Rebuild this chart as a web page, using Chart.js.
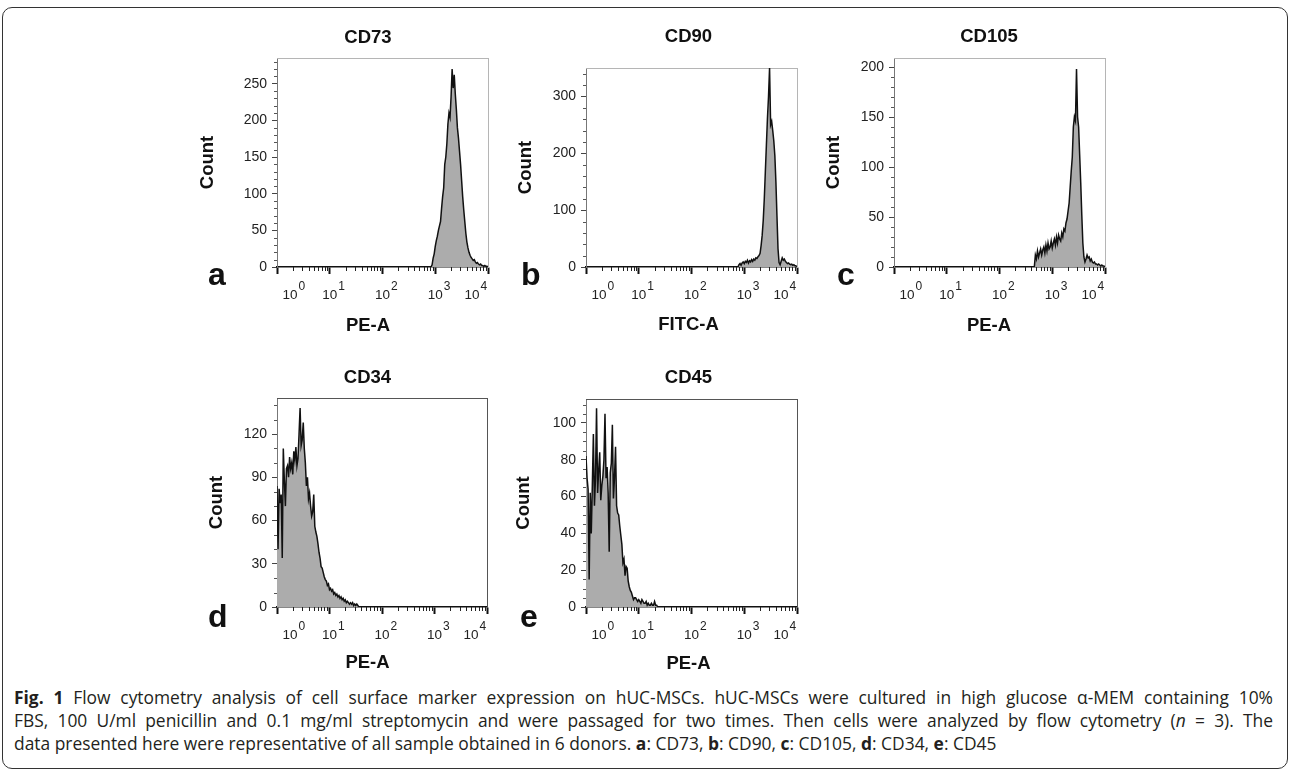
<!DOCTYPE html>
<html lang="en"><head><meta charset="UTF-8"><title>Fig. 1 Flow cytometry</title>
<style>
  html,body{margin:0;background:#fff;}
  #fig{position:relative;width:1290px;height:772px;overflow:hidden;}
  .frame{position:absolute;left:2px;top:7px;width:1286px;height:762px;box-sizing:border-box;
         border:1.5px solid #333;border-radius:10px;}
  canvas{position:absolute;}
  .tag{position:absolute;font:bold 32px/32px "Liberation Sans",Arial,sans-serif;color:#111;}
  .caption{position:absolute;left:14px;top:686px;width:1259px;
           font:17.4px/23px "Open Sans",sans-serif;color:#231f20;}
  .caption .jl{text-align:justify;text-align-last:justify;white-space:nowrap;}
</style>
<script src="https://cdn.jsdelivr.net/npm/chart.js"></script>
</head><body>
<div id="fig">
  <div class="frame"></div>
  <canvas id="cA"></canvas>
  <canvas id="cB"></canvas>
  <canvas id="cC"></canvas>
  <canvas id="cD"></canvas>
  <canvas id="cE"></canvas>
  <div class="tag" style="left:208px;top:258px">a</div>
  <div class="tag" style="left:521px;top:258px">b</div>
  <div class="tag" style="left:837px;top:258px">c</div>
  <div class="tag" style="left:208px;top:600px">d</div>
  <div class="tag" style="left:520px;top:600px">e</div>
  <div class="caption">
    <div class="jl"><b>Fig. 1</b> Flow cytometry analysis of cell surface marker expression on hUC-MSCs. hUC-MSCs were cultured in high glucose α-MEM containing 10%</div>
    <div class="jl">FBS, 100 U/ml penicillin and 0.1 mg/ml streptomycin and were passaged for two times. Then cells were analyzed by flow cytometry (<i>n</i> = 3). The</div>
    <div>data presented here were representative of all sample obtained in 6 donors. <b>a</b>: CD73, <b>b</b>: CD90, <b>c</b>: CD105, <b>d</b>: CD34, <b>e</b>: CD45</div>
  </div>
</div>
<script>
// x axis: decades of fluorescence intensity, histogram channels every 0.02 decade
const decades   = [0, 1, 2, 3, 4];
const xTickBase = '10';
const xTickExp  = ['0', '1', '2', '3', '4'];
const binWidth  = 0.02;

// CD73 (PE-A), first channel at 2.92
const cd73Start  = 2.92;
const cd73Counts = [0,3,12,18,28,36,42,50,56,62,80,96,108,140,150,168,195,210,204,232,
                    270,244,262,236,215,190,176,158,140,118,96,78,62,46,34,26,20,16,13,11,
                    9,10,7,5,6,4,3,4,2,2,1,2,1,1,0];
const cd73Ticks  = [0, 50, 100, 150, 200, 250];

// CD90 (FITC-A), first channel at 2.88
const cd90Start  = 2.88;
const cd90Counts = [0,4,6,3,7,9,6,10,8,12,7,11,9,13,10,14,12,16,15,18,
                    20,24,38,56,82,120,168,215,262,300,350,250,256,240,222,196,150,90,32,8,
                    4,10,16,12,14,10,8,6,7,5,4,5,3,4,2,2,0];
const cd90Ticks  = [0, 100, 200, 300];

// CD105 (PE-A), first channel at 2.66
const cd105Start  = 2.66;
const cd105Counts = [0,12,8,16,10,14,18,12,17,20,14,22,16,24,18,20,26,19,24,28,
                     22,30,24,32,28,26,34,30,38,36,44,48,56,64,80,96,110,140,150,146,
                     198,150,140,112,84,52,24,10,5,8,12,9,10,6,8,5,4,5,3,3,
                     2,3,2,1,2,1,1,0];
const cd105Ticks  = [0, 50, 100, 150, 200];

// CD34 (PE-A), first channel at 0
const cd34Start  = 0;
const cd34Counts = [84,40,82,72,78,34,110,88,70,96,98,90,104,96,100,92,108,102,111,98,
                    103,120,138,112,116,128,110,100,84,90,75,79,70,63,66,78,56,52,49,44,
                    38,34,28,27,24,21,19,18,15,16,12,13,11,12,9,10,8,9,7,8,
                    6,7,5,6,4,5,3,4,3,2,3,2,3,1,2,1,2,1,0,0,0];
const cd34Ticks  = [0, 30, 60, 90, 120];

// CD45 (PE-A), first channel at 0
const cd45Start  = 0;
const cd45Counts = [82,70,64,15,62,40,66,94,55,70,108,62,74,84,58,66,71,80,105,70,
                    76,62,30,73,78,99,59,70,87,55,51,50,44,39,34,24,26,17,22,21,
                    14,11,9,8,6,4,5,5,4,3,4,3,2,4,3,2,2,3,1,2,
                    1,1,2,1,1,3,1,1,0,0,0];
const cd45Ticks  = [0, 20, 40, 60, 80, 100];

const FONT = '"Liberation Sans", Arial, sans-serif';

// log minor ticks on x, minor ticks on y, and the 10^n tick labels
const flowAxes = {
  id: 'flowAxes',
  afterDraw(chart, args, opts) {
    const { ctx, chartArea: a, scales: { x, y } } = chart;
    ctx.save();
    ctx.lineWidth = 1;
    ctx.strokeStyle = '#555';
    for (let v = 0; v <= y.max; v += opts.yMinor) {
      if (v % opts.yMajor === 0) continue;
      const py = Math.round(y.getPixelForValue(v)) + 0.5;
      ctx.beginPath(); ctx.moveTo(a.left - 3, py); ctx.lineTo(a.left, py); ctx.stroke();
    }
    ctx.strokeStyle = '#222';
    for (let d = 0; d < decades.length - 1; d++) {
      for (let k = 2; k <= 9; k++) {
        const px = Math.round(x.getPixelForValue(decades[d] + Math.log10(k))) + 0.5;
        ctx.beginPath(); ctx.moveTo(px, a.bottom); ctx.lineTo(px, a.bottom + 4); ctx.stroke();
      }
    }
    ctx.fillStyle = '#222';
    ctx.textBaseline = 'middle';
    decades.forEach((d, i) => {
      let cx = x.getPixelForValue(d);
      if (i === 0) cx += 13;
      if (i === decades.length - 1) cx -= 16;
      ctx.font = '13.5px ' + FONT;
      ctx.textAlign = 'center';
      ctx.fillText(xTickBase, cx, a.bottom + 28);
      const w = ctx.measureText(xTickBase).width;
      ctx.font = '12px ' + FONT;
      ctx.textAlign = 'left';
      ctx.fillText(xTickExp[i], cx + w / 2 + 1, a.bottom + 20);
    });
    ctx.restore();
  }
};

function drawPanel(p) {
  const left  = Math.round(p.countX - 13.5);
  const top   = Math.round(p.titleY - 15.5);
  const W     = Math.round(2 * p.titleX - 2 * left);
  const subTop = Math.round(p.xTitleY - 9.5);
  const H     = subTop + 23 - top;
  const yw = p.box.l - left;
  const rw = left + W - p.box.r;
  const xh = subTop - p.box.b;

  const cv = document.getElementById(p.id);
  cv.width = W; cv.height = H;
  cv.style.left = left + 'px'; cv.style.top = top + 'px';

  const points = p.counts.map((c, i) => ({ x: +(p.start + i * binWidth).toFixed(2), y: c }));
  const titleFont = { family: FONT, size: 18.5, weight: 'bold', lineHeight: '19px' };

  new Chart(cv.getContext('2d'), {
    type: 'line',
    data: {
      datasets: [{
        data: points,
        xAxisID: 'x', yAxisID: 'y',
        borderColor: '#111',
        borderWidth: 1.5,
        backgroundColor: '#acacac',
        fill: 'origin',
        pointRadius: 0,
        tension: 0
      }]
    },
    options: {
      responsive: false,
      animation: false,
      layout: { padding: 0 },
      plugins: {
        legend: { display: false },
        tooltip: { enabled: false },
        title: { display: true, text: p.title, color: '#111', font: titleFont,
                 padding: { top: 6, bottom: p.box.t - top - 25 } },
        subtitle: { display: true, position: 'bottom', text: p.xTitle, color: '#111', font: titleFont,
                    padding: { top: 0, bottom: 4 } },
        flowAxes: { yMajor: p.yTicks[1], yMinor: p.yMinor }
      },
      scales: {
        x: {
          type: 'linear', position: 'bottom', min: 0, max: 4,
          afterBuildTicks: s => { s.ticks = decades.map(v => ({ value: v })); },
          afterFit: s => { s.height = xh; },
          ticks: { display: false },
          grid: { drawOnChartArea: false, tickLength: 7, tickWidth: 2, tickColor: '#111' },
          border: { color: '#111', width: 1.5 }
        },
        y: {
          type: 'linear', position: 'left', min: 0, max: p.yMax,
          afterBuildTicks: s => { s.ticks = p.yTicks.map(v => ({ value: v })); },
          afterFit: s => { s.width = yw; },
          ticks: { color: '#222', padding: 5, font: { family: FONT, size: 14 } },
          grid: { drawOnChartArea: false, tickLength: 5, tickWidth: 1, tickColor: '#444' },
          border: { color: '#777', width: 1 },
          title: { display: true, text: 'Count', color: '#111', font: titleFont, padding: 4 }
        },
        xTop: {
          type: 'linear', position: 'top', min: 0, max: 4,
          afterFit: s => { s.height = 0; },
          ticks: { display: false },
          grid: { drawOnChartArea: false, drawTicks: false },
          border: { color: p.frame, width: 1 }
        },
        yRight: {
          type: 'linear', position: 'right', min: 0, max: 1,
          afterFit: s => { s.width = rw; },
          ticks: { display: false },
          grid: { drawOnChartArea: false, drawTicks: false },
          border: { color: p.frame, width: 1 }
        }
      }
    },
    plugins: [flowAxes]
  });
}

const panels = [
  { id: 'cA', title: 'CD73',  xTitle: 'PE-A',   start: cd73Start,  counts: cd73Counts,  yTicks: cd73Ticks,  yMax: 285, yMinor: 10,
    box: { l: 277, r: 488, t: 58,  b: 267 }, titleX: 368,   titleY: 37,    countX: 207.5, xTitleY: 325,   frame: '#b5b5b5' },
  { id: 'cB', title: 'CD90',  xTitle: 'FITC-A', start: cd90Start,  counts: cd90Counts,  yTicks: cd90Ticks,  yMax: 350, yMinor: 20,
    box: { l: 586, r: 797, t: 68,  b: 267 }, titleX: 688.5, titleY: 36.5,  countX: 525,   xTitleY: 324.5, frame: '#b5b5b5' },
  { id: 'cC', title: 'CD105', xTitle: 'PE-A',   start: cd105Start, counts: cd105Counts, yTicks: cd105Ticks, yMax: 209, yMinor: 10,
    box: { l: 894, r: 1105, t: 58, b: 267 }, titleX: 989,   titleY: 36.5,  countX: 833.5, xTitleY: 325,   frame: '#b5b5b5' },
  { id: 'cD', title: 'CD34',  xTitle: 'PE-A',   start: cd34Start,  counts: cd34Counts,  yTicks: cd34Ticks,  yMax: 145, yMinor: 10,
    box: { l: 277, r: 487, t: 398, b: 607 }, titleX: 367.5, titleY: 377.5, countX: 216.5, xTitleY: 662.5, frame: '#555' },
  { id: 'cE', title: 'CD45',  xTitle: 'PE-A',   start: cd45Start,  counts: cd45Counts,  yTicks: cd45Ticks,  yMax: 113, yMinor: 5,
    box: { l: 586, r: 797, t: 399, b: 607 }, titleX: 688.5, titleY: 377.5, countX: 523.5, xTitleY: 663,   frame: '#555' }
];

panels.forEach(drawPanel);
</script>
</body></html>
